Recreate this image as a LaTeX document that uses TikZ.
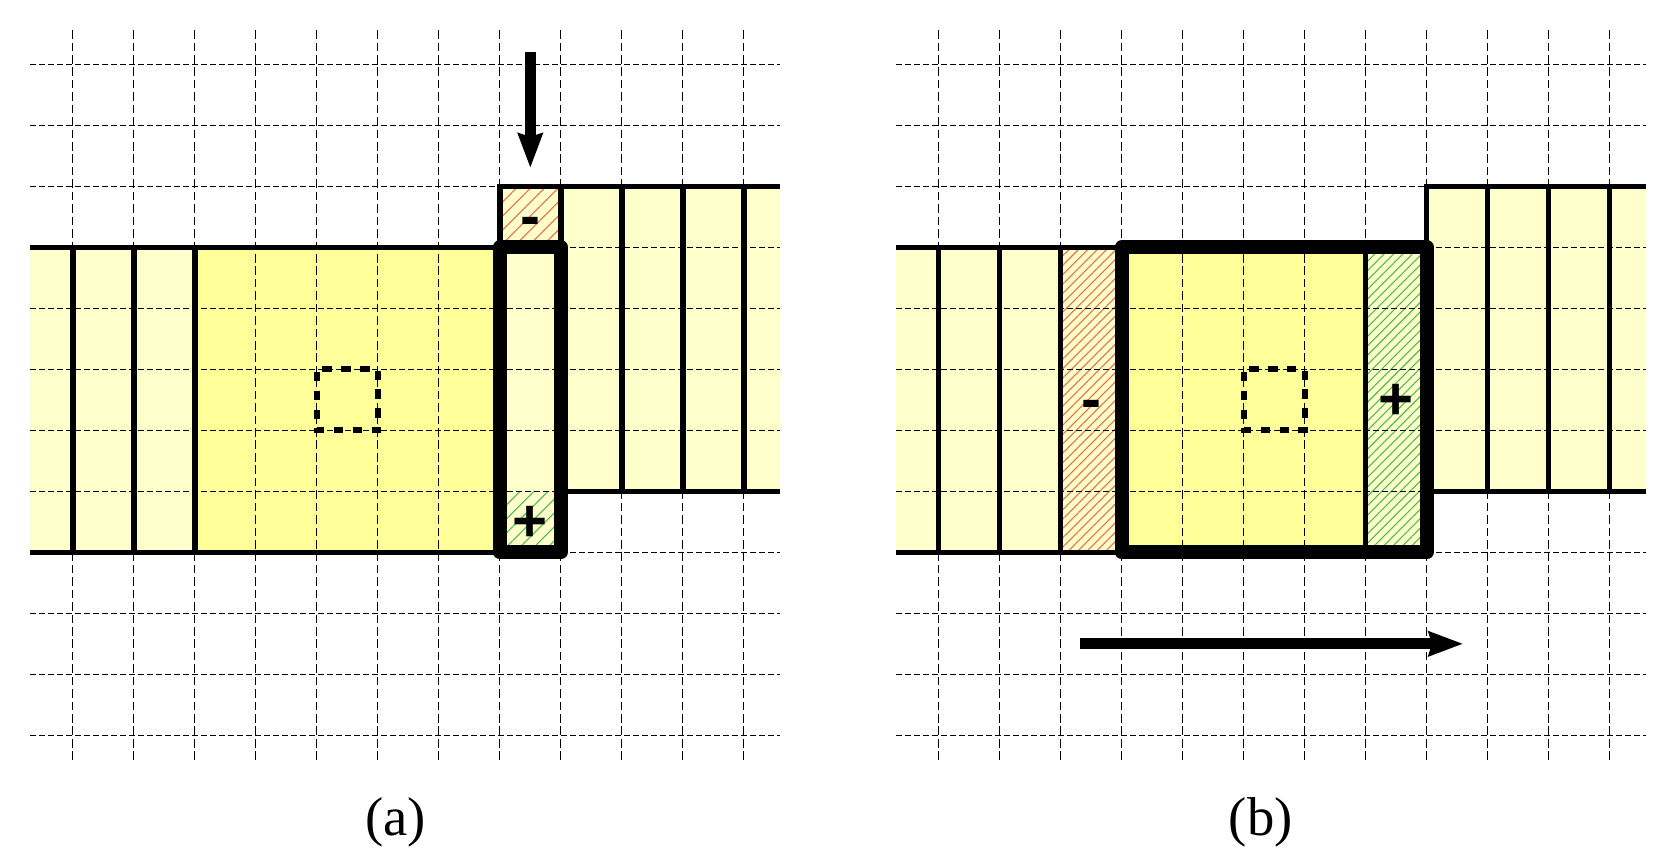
\documentclass[tikz,border=0pt]{standalone}
\usepackage{fontspec}
\setmainfont{Liberation Serif}
\newfontfamily\sgnfont{Liberation Sans}
\usetikzlibrary{arrows.meta,patterns.meta}
\definecolor{lightyel}{RGB}{255,255,204}
\definecolor{brightyel}{RGB}{255,255,153}
\definecolor{hatchred}{RGB}{235,110,70}
\definecolor{hatchgreen}{RGB}{80,185,80}
\tikzset{
  gridh/.style={line width=0.5pt, dash pattern=on 2.6pt off 1.6pt},
  gridv/.style={line width=0.5pt, dash pattern=on 4pt off 1.8pt},
  stripline/.style={line width=2.6pt},
  boxline/.style={line width=6.6pt, line join=round},
  centersq/.style={line width=2.8pt, dash pattern=on 4.4pt off 4.4pt, dash phase=-1.2pt},
  bigarrow/.style={line width=5pt, -{Stealth[length=16pt,width=11.2pt,inset=1.5pt]}},
  sign/.style={font=\sgnfont\bfseries\fontsize{28}{30}\selectfont, anchor=base, inner sep=0pt},
  panellabel/.style={font=\fontsize{25.5}{30}\selectfont, anchor=base, inner sep=0pt},
  hatchA/.style={pattern={Lines[angle=45,distance=4.6pt,line width=0.5pt]}},
  hatchB/.style={pattern={Lines[angle=45,distance=3.1pt,line width=0.5pt]}},
}
\newcommand{\drawgrid}{%
  \foreach \k in {0,...,11} \draw[gridv] (\k,0.56) -- (\k,-11.45);
  \foreach \j in {0,...,11} \draw[gridh] (-0.70,-\j) -- (11.60,-\j);
}
\begin{document}
\begin{tikzpicture}
\useasboundingbox (0,0) rectangle (27.508,-14.066);
% ---------------- panel (a)
\begin{scope}[shift={(1.1934,-1.0541)}]
  \fill[lightyel] (-0.70,-3) rectangle (2,-8);
  \fill[brightyel] (2,-3) rectangle (7,-8);
  \fill[lightyel] (7,-2) rectangle (11.60,-7);
  \fill[lightyel] (7,-7) rectangle (8,-8);
  \path[hatchA, pattern color=hatchred] (7,-2) rectangle (8,-3);
  \path[hatchA, pattern color=hatchgreen] (7,-7) rectangle (8,-8);
  \drawgrid
  \draw[stripline] (-0.70,-3) -- (7,-3);
  \draw[stripline] (-0.70,-8) -- (7,-8);
  \foreach \x in {0,1,2} \draw[stripline] (\x,-3) -- (\x,-8);
  \draw[stripline] (7,-3) -- (7,-2) -- (11.60,-2);
  \draw[stripline] (8,-7) -- (11.60,-7);
  \foreach \x in {8,...,11} \draw[stripline] (\x,-2) -- (\x,-7);
  \draw[boxline] (7,-3) rectangle (8,-8);
  \draw[centersq] (4,-5) rectangle (5,-6);
  \coordinate (aS) at (7.5,0.20);
  \coordinate (aE) at (7.5,-1.70);
  \draw[bigarrow] (aS) -- (aE);
  \node[sign] (aminus) at (7.5,-2.83) {-};
  \node[sign] (aplus) at (7.5,-7.83) {+};
  \node[panellabel] (alabel) at (5.29,-12.64) {(a)};
\end{scope}
% ---------------- panel (b)
\begin{scope}[shift={(15.387,-1.0541)}]
  \fill[lightyel] (-0.70,-3) rectangle (8,-8);
  \fill[brightyel] (3,-3) rectangle (7,-8);
  \fill[lightyel] (8,-2) rectangle (11.60,-7);
  \path[hatchB, pattern color=hatchred] (2,-3) rectangle (3,-8);
  \path[hatchB, pattern color=hatchgreen] (7,-3) rectangle (8,-8);
  \drawgrid
  \draw[stripline] (-0.70,-3) -- (3,-3);
  \draw[stripline] (-0.70,-8) -- (3,-8);
  \foreach \x in {0,1,2} \draw[stripline] (\x,-3) -- (\x,-8);
  \draw[stripline] (7,-3) -- (7,-8);
  \draw[stripline] (8,-3) -- (8,-2) -- (11.60,-2);
  \draw[stripline] (8,-7) -- (11.60,-7);
  \foreach \x in {9,10,11} \draw[stripline] (\x,-2) -- (\x,-7);
  \draw[boxline] (3,-3) rectangle (8,-8);
  \draw[centersq] (5,-5) rectangle (6,-6);
  \coordinate (bS) at (2.32,-9.50);
  \coordinate (bE) at (8.60,-9.50);
  \draw[bigarrow] (bS) -- (bE);
  \node[sign] (bminus) at (2.5,-5.83) {-};
  \node[sign] (bplus) at (7.5,-5.83) {+};
  \node[panellabel] (blabel) at (5.28,-12.64) {(b)};
\end{scope}
\end{tikzpicture}
\end{document}
